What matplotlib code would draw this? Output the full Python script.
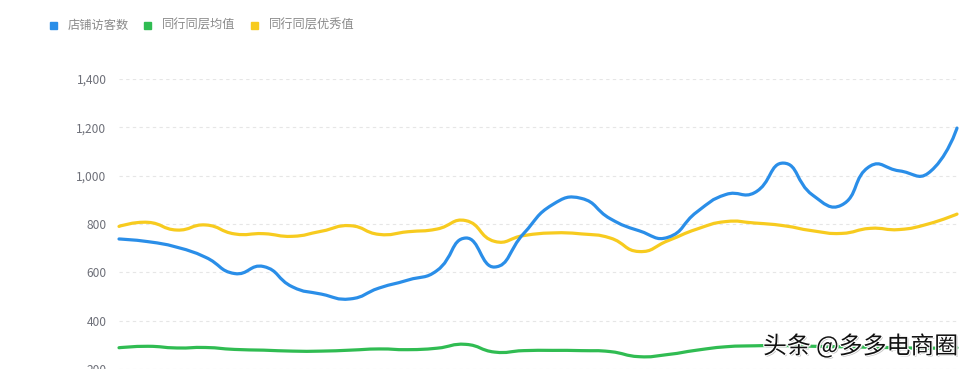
import numpy as np
import matplotlib
matplotlib.use('Agg')
import matplotlib.pyplot as plt
from matplotlib.path import Path
from matplotlib.patches import PathPatch, Rectangle
import matplotlib.patheffects as pe

plt.rcParams['font.family'] = ['Noto Sans CJK SC', 'DejaVu Sans']

# 30 天的数据
days = list(range(1, 31))
visitors = [738, 727, 704, 662, 595, 624, 540, 510, 490, 535,
            568, 607, 742, 622, 760, 880, 906, 822, 772, 745,
            850, 922, 930, 1052, 920, 878, 1040, 1020, 1010, 1197]
peer_avg = [288, 294, 287, 289, 281, 278, 274, 274, 278, 283,
            280, 286, 302, 270, 276, 277, 276, 272, 251, 260,
            278, 292, 296, 297, 294, 292, 290, 288, 286, 288]
peer_best = [790, 807, 775, 796, 759, 760, 749, 770, 793, 757,
             768, 779, 814, 728, 752, 763, 759, 742, 686, 731,
             779, 810, 804, 793, 772, 761, 782, 777, 800, 841]

names = ['店铺访客数', '同行同层均值', '同行同层优秀值']
colors = ['#2a8ee8', '#30bc52', '#f7cb1f']
yticks = [200, 400, 600, 800, 1000, 1200, 1400]

W, H = 978, 369
fig = plt.figure(figsize=(W / 100, H / 100), dpi=100)
ax = fig.add_axes([119 / W, 0.0, (957 - 119) / W, 1 - 79 / H])
ax.set_xlim(0, len(days) - 1)
ax.set_ylim(200, 1400)

# 像素比例, 用于平滑曲线控制点
sx = (957 - 119) / (len(days) - 1)
sy = (369 - 79) / 1200


def smooth_path(xs, ys, smooth=0.5):
    px = np.array(xs, float) * sx
    py = np.array(ys, float) * sy
    n = len(px)
    cp_in = [(px[0], py[0])] * n
    cp_out = [(px[0], py[0])] * n
    for i in range(n):
        if i == 0 or i == n - 1:
            cp_in[i] = (px[i], py[i])
            cp_out[i] = (px[i], py[i])
            continue
        vx = (px[i + 1] - px[i - 1]) * smooth
        vy = (py[i + 1] - py[i - 1]) * smooth
        l0 = np.hypot(px[i] - px[i - 1], py[i] - py[i - 1])
        l1 = np.hypot(px[i + 1] - px[i], py[i + 1] - py[i])
        r = l1 / (l0 + l1)
        cp_in[i] = (px[i] - vx * (1 - r), py[i] - vy * (1 - r))
        cp_out[i] = (px[i] + vx * r, py[i] + vy * r)
    verts = [(px[0], py[0])]
    codes = [Path.MOVETO]
    for i in range(n - 1):
        verts += [cp_out[i], cp_in[i + 1], (px[i + 1], py[i + 1])]
        codes += [Path.CURVE4] * 3
    verts = [(x / sx, y / sy) for x, y in verts]
    return Path(verts, codes)


x = np.arange(len(days))
for ys, c in [(peer_avg, colors[1]), (peer_best, colors[2]), (visitors, colors[0])]:
    ax.add_patch(PathPatch(smooth_path(x, ys), fill=False, edgecolor=c,
                           linewidth=2.3, capstyle='round', joinstyle='round',
                           clip_on=False, zorder=3))

ax.set_yticks(yticks)
ax.set_yticklabels([f'{v:,}' for v in yticks])
ax.set_xticks([])
ax.grid(axis='y', color='#e6e6e6', linestyle=(0, (3, 3)), linewidth=0.8)
for s in ax.spines.values():
    s.set_visible(False)
ax.tick_params(axis='y', length=0, pad=9, labelsize=8.6, labelcolor='#6e7079')

# 图例
lx = [50, 144, 251]
for i in range(3):
    fig.patches.append(Rectangle((lx[i] / W, 1 - 28.5 / H), 7 / W, 7 / H,
                                 transform=fig.transFigure, color=colors[i]))
    fig.text((lx[i] + 18) / W, 1 - 25 / H, names[i], fontsize=8.8,
             color='#8a8a8a', va='center', ha='left')

# 水印
fig.text(763 / W, 1 - 346 / H, '头条 @多多电商圈', fontsize=17.2, color='#111111',
         va='center', ha='left',
         path_effects=[pe.withSimplePatchShadow(offset=(1, -1), shadow_rgbFace='#bbbbbb', alpha=0.9),
                       pe.withStroke(linewidth=1.6, foreground='white')])

fig.savefig('out.png', dpi=100)
